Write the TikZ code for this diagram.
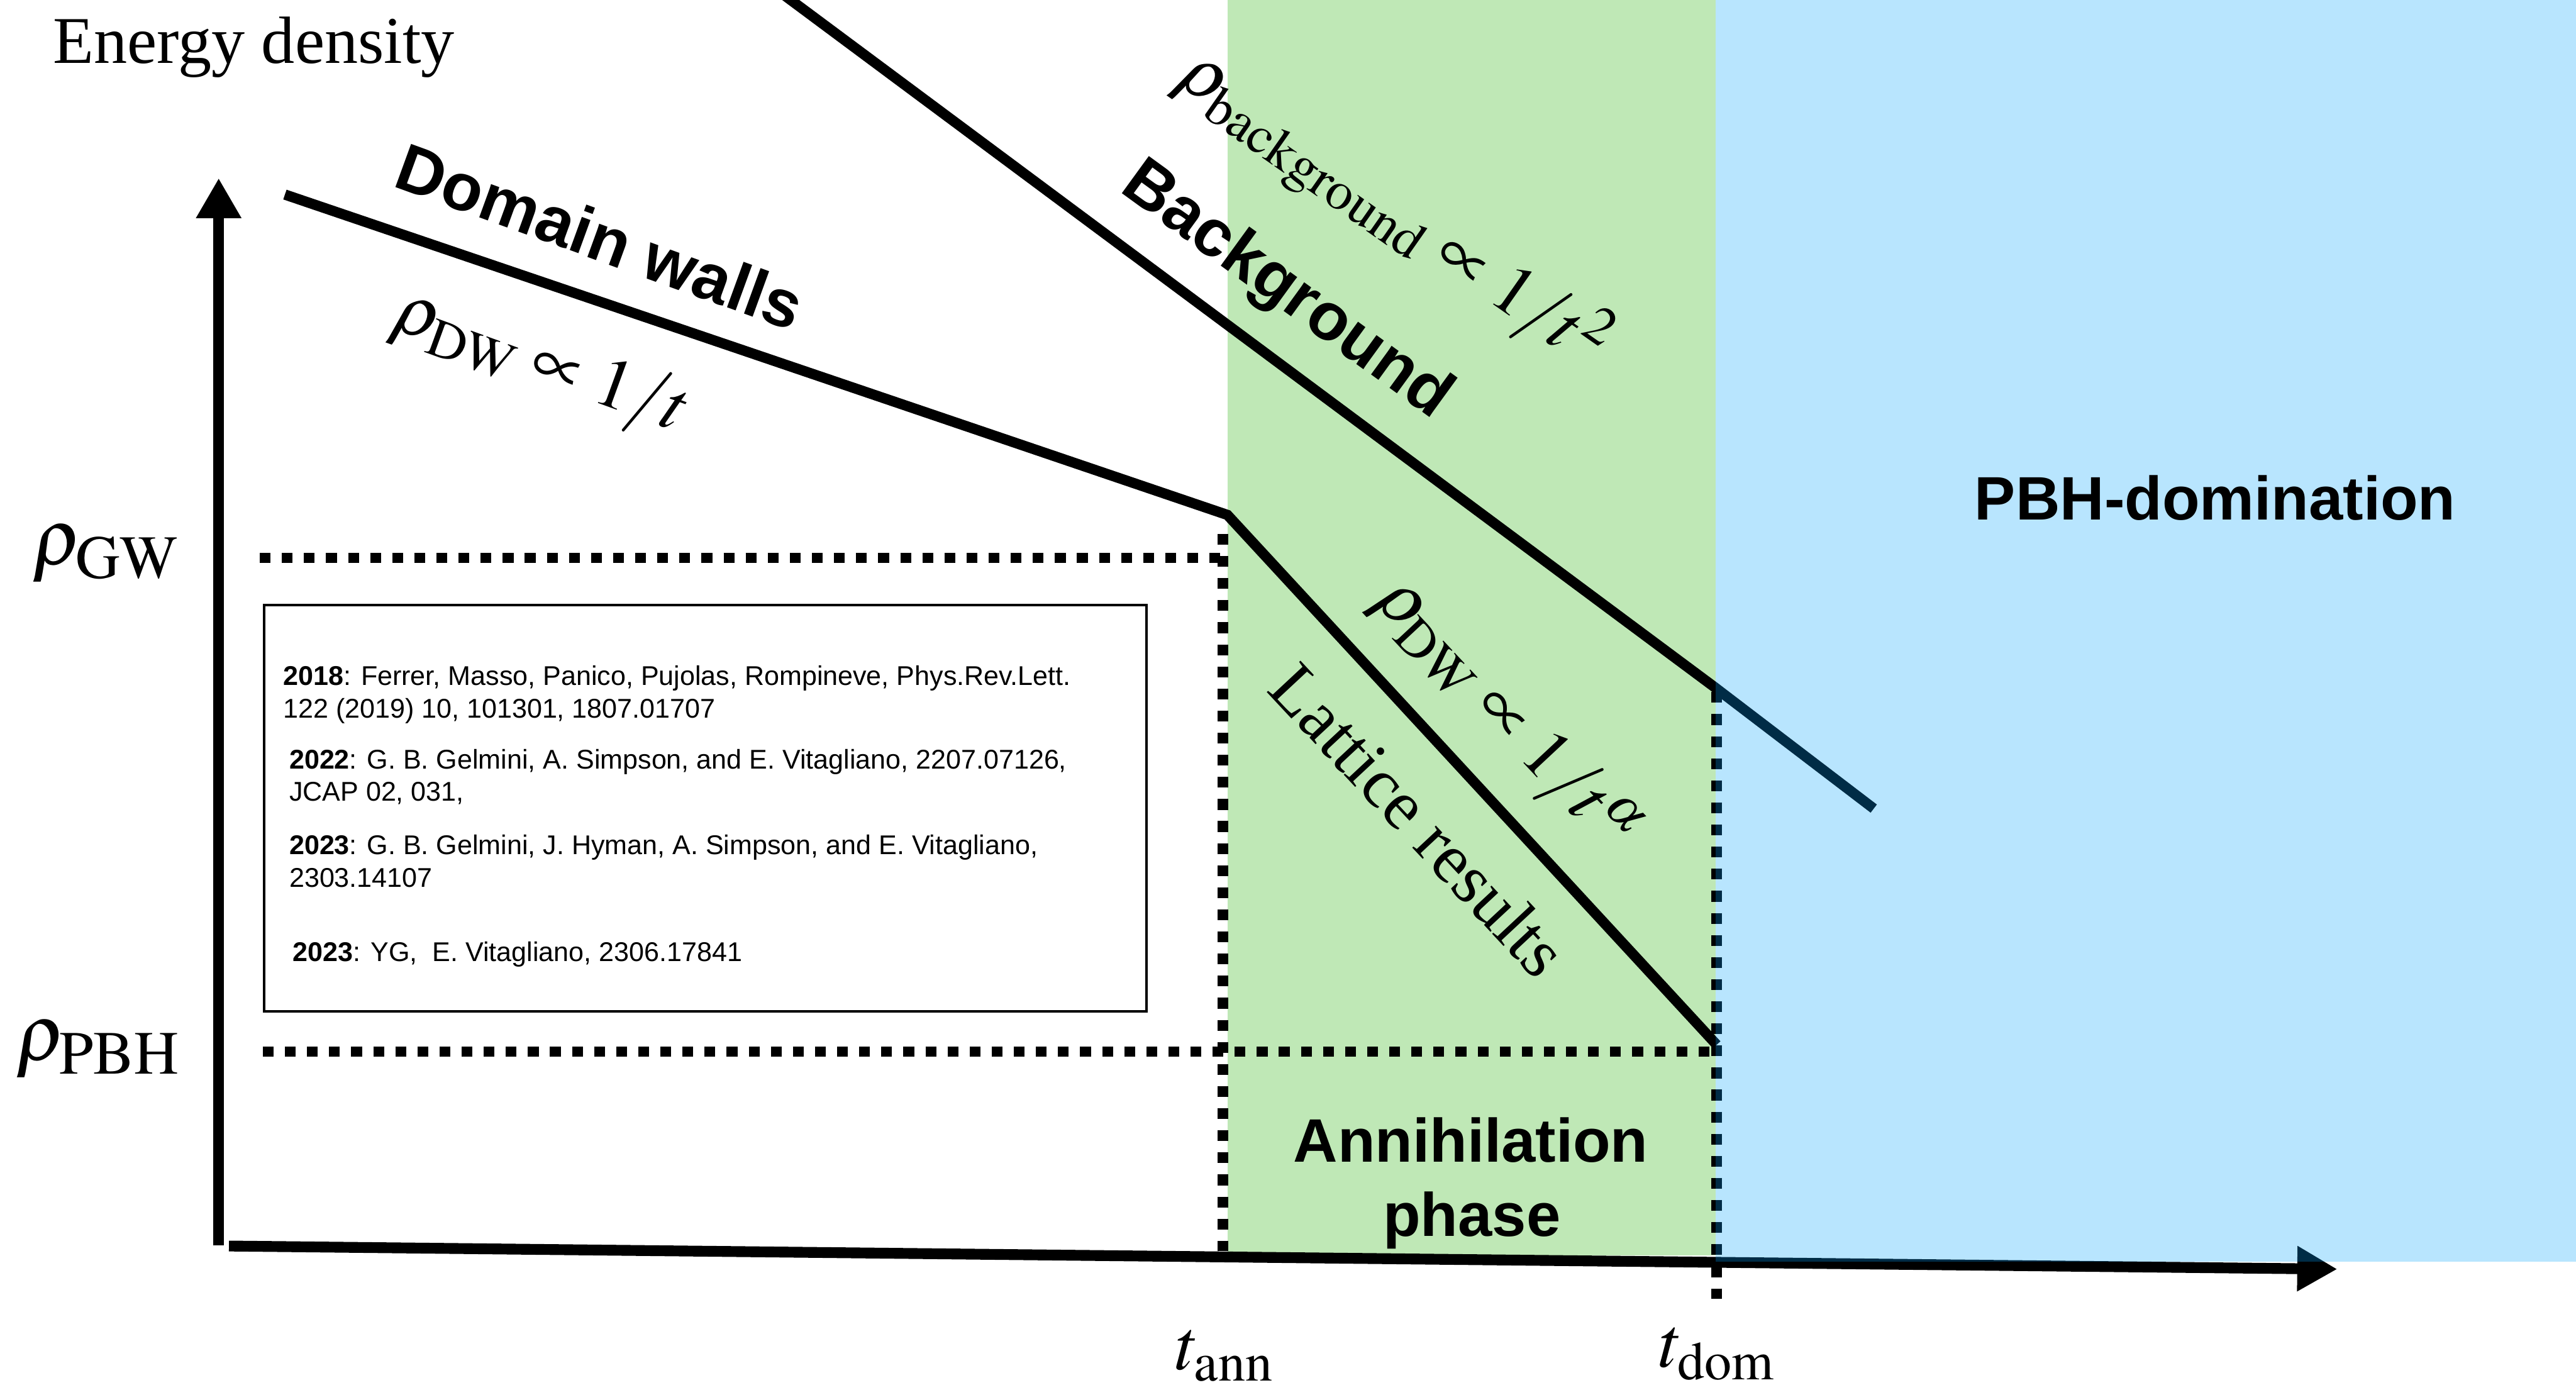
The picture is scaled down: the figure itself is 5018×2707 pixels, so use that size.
\documentclass[tikz,border=0pt]{standalone}
\usepackage{mathptmx}
\usepackage{fontspec}
\setmainfont{Liberation Serif}
\setsansfont{Liberation Sans}
\usetikzlibrary{arrows.meta}
\DeclareMathSizes{44}{44}{34}{24}
\DeclareMathSizes{40}{40}{30}{22}

\definecolor{phasegreen}{RGB}{191,232,182}
\definecolor{pbhblue}{RGB}{0,160,252}

\tikzset{
  curve/.style={line width=0.2cm, line join=miter},
  dotline/.style={line width=0.2cm, dash pattern=on 0.21cm off 0.22cm},
  axisline/.style={line width=0.21cm, -{Triangle[length=0.78cm,width=0.83cm]}},
  boldlabel/.style={font=\fontsize{34}{40}\selectfont\sffamily\bfseries, inner sep=0},
  slantlabel/.style={font=\fontsize{37}{43}\selectfont\sffamily\bfseries, inner sep=0},
  mathlabel/.style={font=\fontsize{40}{48}\selectfont, inner sep=0},
  biglabel/.style={font=\fontsize{44}{52}\selectfont, inner sep=0},
  serifnote/.style={font=\fontsize{37}{44}\selectfont, inner sep=0},
  lattnote/.style={font=\fontsize{39}{46}\selectfont, inner sep=0},
  refline/.style={font=\fontsize{15}{18}\selectfont\sffamily, inner sep=0, anchor=base west},
}

\begin{document}
\begin{tikzpicture}[x=0.01cm, y=-0.01cm]
\useasboundingbox (0,0) rectangle (5018,2707);
\begin{scope}
\clip (0,0) rectangle (5018,2707);

% annihilation phase band
\fill[phasegreen] (2391,0) rectangle (3342,2445);

% reference box
\draw[line width=0.05cm] (514,1179) rectangle (2233,1970);
\node[refline] (r1a) at (551,1335) {\textbf{2018}: Ferrer, Masso, Panico, Pujolas, Rompineve, Phys.Rev.Lett.};
\node[refline] (r1b) at (551,1399) {122 (2019) 10, 101301, 1807.01707};
\node[refline] (r2a) at (563,1498) {\textbf{2022}: G. B. Gelmini, A. Simpson, and E. Vitagliano, 2207.07126,};
\node[refline] (r2b) at (563,1560) {JCAP 02, 031,};
\node[refline] (r3a) at (563,1664) {\textbf{2023}: G. B. Gelmini, J. Hyman, A. Simpson, and E. Vitagliano,};
\node[refline] (r3b) at (563,1728) {2303.14107};
\node[refline] (r4a) at (570,1873) {\textbf{2023}: YG,\ \ E. Vitagliano, 2306.17841};

% characteristic points
\coordinate (dwstart) at (555,379);
\coordinate (kink) at (2391,1003);
\coordinate (latend) at (3344,2035);
\coordinate (bgstart) at (1500,-30);
\coordinate (bgdom) at (3342,1340);
\coordinate (bgend) at (3650,1575);
\coordinate (gwleft) at (506,1087);
\coordinate (gwright) at (2382,1087);
\coordinate (anntop) at (2382,1040);
\coordinate (annbot) at (2382,2437);
\coordinate (pbhleft) at (512,2048);
\coordinate (pbhright) at (3344,2048);
\coordinate (domtop) at (3344,1348);
\coordinate (dombot) at (3344,2530);
\coordinate (yfoot) at (426,2426);
\coordinate (ytip) at (426,347);
\coordinate (xfoot) at (446,2427);
\coordinate (xtip) at (4553,2472);

% reference levels and times
\draw[dotline] (gwleft) -- (gwright);
\draw[dotline] (anntop) -- (annbot);
\draw[dotline] (pbhleft) -- (pbhright);
\draw[dotline] (domtop) -- (dombot);

% energy densities
\draw[curve] (dwstart) -- (kink) -- (latend);
\draw[curve] (bgstart) -- (bgdom) -- (bgend);

% axes
\draw[axisline] (yfoot) -- (ytip);
\draw[axisline] (xfoot) -- (xtip);

% PBH-dominated era
\fill[pbhblue, fill opacity=0.28] (3342,0) rectangle (5018,2457);
\end{scope}

% labels
\node[serifnote, anchor=base west] (ylab) at (103,123) {Energy density};
\node[biglabel, anchor=base west] (gw) at (62,1100) {$\rho_{\mathrm{GW}}$};
\node[biglabel, anchor=base west] (pbh) at (30,2065) {$\rho_{\mathrm{PBH}}$};
\node[mathlabel, anchor=base west] (tann) at (2290,2668) {$t_{\mathrm{ann}}$};
\node[mathlabel, anchor=base west] (tdom) at (3232,2663) {$t_{\mathrm{dom}}$};

\node[slantlabel, rotate=-20] (dwname) at (1169,460) {Domain walls};
\node[mathlabel, rotate=-20] (dwlaw) at (1054,708) {$\rho_{\mathrm{DW}}\propto 1/t$};
\node[slantlabel, rotate=-36] (bgname) at (2505,568) {Background};
\node[mathlabel, rotate=-35] (bglaw) at (2712,410) {$\rho_{\mathrm{background}}\propto 1/t^{2}$};
\node[mathlabel, rotate=-47] (latlaw) at (2931,1395) {$\rho_{\mathrm{DW}}\propto 1/t^{\alpha}$};
\node[lattnote, rotate=-47] (latname) at (2764,1597) {Lattice results};

\node[boldlabel, anchor=base] (annA) at (2865,2263) {Annihilation};
\node[boldlabel, anchor=base] (annB) at (2867,2408) {phase};
\node[boldlabel, anchor=base] (pbhdom) at (4315,1013) {PBH-domination};
\end{tikzpicture}
\end{document}
